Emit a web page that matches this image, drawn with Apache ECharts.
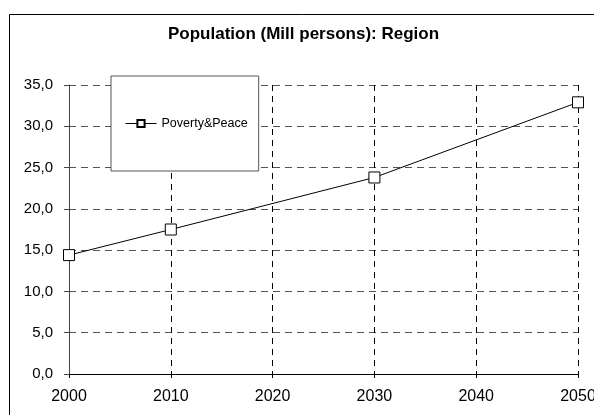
<!DOCTYPE html>
<html>
<head>
<meta charset="utf-8">
<script src="https://cdn.jsdelivr.net/npm/echarts@6/dist/echarts.min.js"></script>
<style>
  html, body { margin: 0; padding: 0; background: #fff; }
  #chart { width: 594px; height: 415px; }
</style>
</head>
<body>
<div id="chart"></div>
<script>
// Population projection, millions of persons
const years = [2000, 2010, 2030, 2050];
const povertyPeace = [14.4, 17.5, 23.8, 32.9];
const seriesName = 'Poverty&Peace';
const titleText = 'Population (Mill persons): Region';

const chart = echarts.init(document.getElementById('chart'));
const font = 'Liberation Sans, Arial, sans-serif';

chart.setOption({
  animation: false,
  backgroundColor: '#fff',
  title: {
    text: titleText,
    left: 168,
    top: 26,
    padding: 0,
    textStyle: { fontFamily: font, fontSize: 17, fontWeight: 'bold', color: '#000' }
  },
  graphic: [{
    type: 'rect',
    shape: { x: 9.5, y: 14.5, width: 620, height: 440 },
    style: { fill: 'none', stroke: '#000', lineWidth: 1 },
    z: -1
  }],
  legend: {
    left: 111,
    top: 76,
    orient: 'vertical',
    backgroundColor: '#fff',
    borderColor: '#555',
    borderWidth: 1,
    padding: [41, 11, 41, 14],
    itemWidth: 31,
    itemHeight: 9,
    itemGap: 0,
    lineStyle: { width: 1, color: '#000' },
    textStyle: { fontFamily: font, fontSize: 12.5, color: '#000' },
    data: [seriesName]
  },
  grid: { left: 69, right: 16, top: 85, bottom: 41, outerBoundsMode: 'none', containLabel: false },
  xAxis: {
    type: 'value',
    min: 2000,
    max: 2050,
    interval: 10,
    axisLine: { onZero: false, lineStyle: { color: '#000', width: 1 } },
    axisTick: { show: true, length: 4, lineStyle: { color: '#000' } },
    axisLabel: { fontFamily: font, fontSize: 16, color: '#000', margin: 15,
                 formatter: v => String(v) },
    splitLine: { show: true, lineStyle: { color: '#000', type: [6, 5], width: 1 } }
  },
  yAxis: {
    type: 'value',
    min: 0,
    max: 35,
    interval: 5,
    axisLine: { show: true, lineStyle: { color: '#444', width: 1 } },
    axisTick: { show: true, length: 5, lineStyle: { color: '#444' } },
    axisLabel: { fontFamily: font, fontSize: 15, color: '#000', margin: 16,
                 formatter: v => v.toFixed(1).replace('.', ',') },
    splitLine: { show: true, lineStyle: { color: '#555', type: [7, 5], width: 1 } }
  },
  series: [{
    name: seriesName,
    type: 'line',
    data: years.map((y, i) => [y, povertyPeace[i]]),
    symbol: 'rect',
    symbolSize: 11,
    showAllSymbol: true,
    lineStyle: { color: '#000', width: 1 },
    itemStyle: { color: '#fff', borderColor: '#000', borderWidth: 1 },
    clip: false
  }]
});
</script>
</body>
</html>
